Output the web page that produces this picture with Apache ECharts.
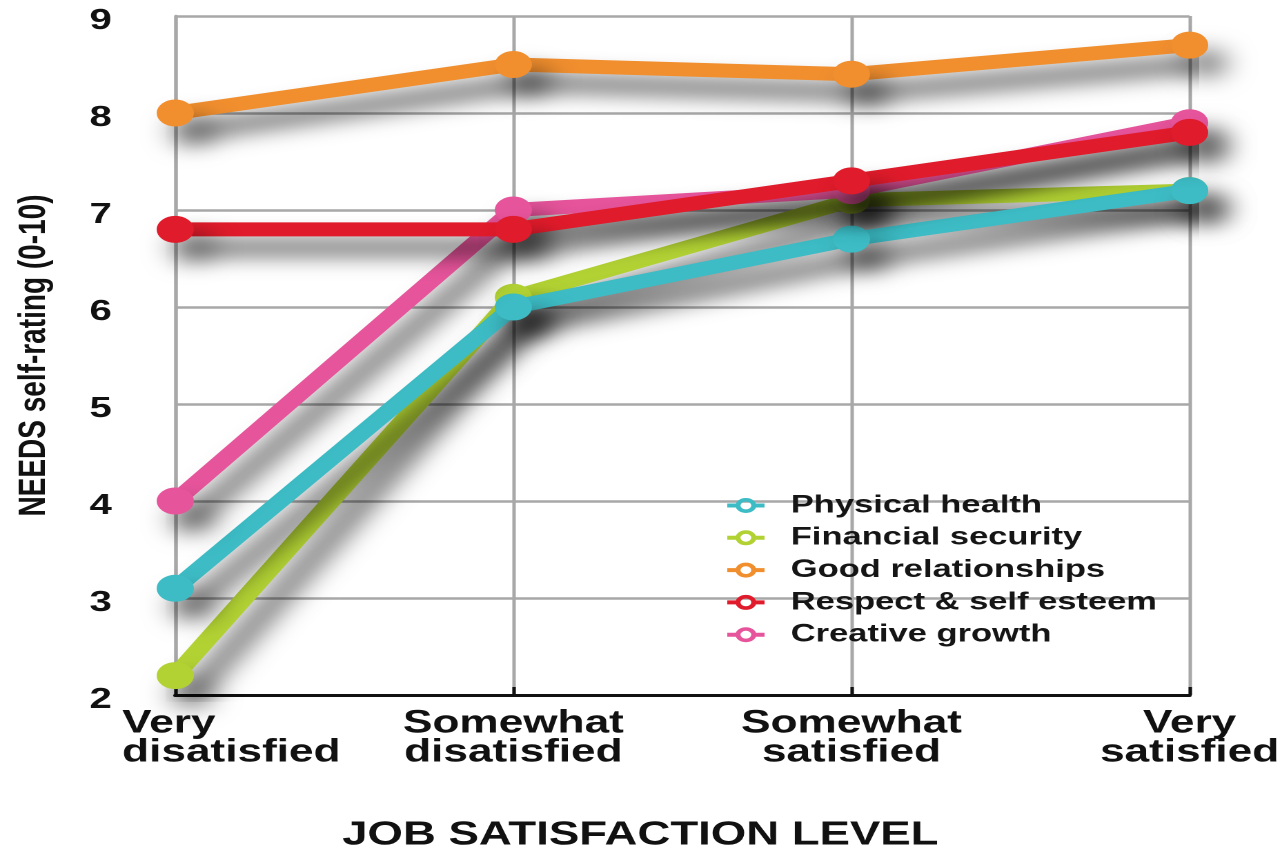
<!DOCTYPE html>
<html>
<head>
<meta charset="utf-8">
<script src="https://cdn.jsdelivr.net/npm/echarts@6/dist/echarts.min.js"></script>
<style>
  html, body { margin: 0; padding: 0; background: #fff; overflow: hidden; }
  #wrap { width: 1282px; height: 849px; overflow: hidden; position: relative; }
  #chart { position: absolute; left: 0; top: 0; height: 849px; transform-origin: 0 0; }
</style>
</head>
<body>
<div id="wrap"><div id="chart"></div></div>
<script>
// ---- data ----
const categories = ['Very\ndisatisfied', 'Somewhat\ndisatisfied', 'Somewhat\nsatisfied', 'Very\nsatisfied'];
const seriesNames = ['Physical health', 'Financial security', 'Good relationships', 'Respect & self esteem', 'Creative growth'];
const physicalHealth = [3.1, 6.0, 6.7, 7.2];
const financialSecurity = [2.2, 6.1, 7.1, 7.2];
const goodRelationships = [8.0, 8.5, 8.4, 8.7];
const respectSelfEsteem = [6.8, 6.8, 7.3, 7.8];
const creativeGrowth = [4.0, 7.0, 7.2, 7.9];
const yMin = 2, yMax = 9, yStep = 1;
const xAxisTitle = 'JOB SATISFACTION LEVEL';
const yAxisTitle = 'NEEDS self-rating (0-10)';

// ---- presentation (reference image is stretched horizontally) ----
const SX = 1.38;
const W = Math.round(1282 / SX);
const el = document.getElementById('chart');
el.style.width = W + 'px';
el.style.transform = 'scaleX(' + SX + ')';

const colors = {
  'Physical health': '#3dbcc5',
  'Financial security': '#b2d234',
  'Good relationships': '#f18f2f',
  'Respect & self esteem': '#e01b2b',
  'Creative growth': '#e6549b'
};
const zOrder = {
  'Financial security': 2,
  'Physical health': 3,
  'Creative growth': 4,
  'Respect & self esteem': 5,
  'Good relationships': 6
};
const values = [physicalHealth, financialSecurity, goodRelationships, respectSelfEsteem, creativeGrowth];
const FONT = '"Liberation Sans", Arial, Helvetica, sans-serif';

// legend icon: short bar, ring, short bar
const RING_ICON = 'path://M0,6 L7,6 L7,10 L0,10 Z M20,6 L27,6 L27,10 L20,10 Z ' +
  'M6,8 A7.5,7.5 0 1,1 21,8 A7.5,7.5 0 1,1 6,8 Z ' +
  'M9.6,8 A3.9,3.9 0 1,0 17.4,8 A3.9,3.9 0 1,0 9.6,8 Z';

const series = seriesNames.map((name, i) => ({
  name: name,
  type: 'line',
  data: values[i],
  z: zOrder[name],
  symbol: 'circle',
  symbolSize: 27,
  showSymbol: true,
  animation: false,
  color: colors[name],
  lineStyle: {
    width: 14,
    color: colors[name],
    shadowColor: 'rgba(0,0,0,0.7)',
    shadowBlur: 22,
    shadowOffsetX: 12,
    shadowOffsetY: 18
  },
  itemStyle: {
    color: colors[name],
    shadowColor: 'rgba(0,0,0,0.6)',
    shadowBlur: 22,
    shadowOffsetX: 12,
    shadowOffsetY: 18
  },
  emphasis: { disabled: true }
}));

const chart = echarts.init(el, null, { renderer: 'canvas', devicePixelRatio: 2 });
chart.setOption({
  backgroundColor: '#ffffff',
  animation: false,
  grid: { left: 127, right: W - 862, top: 16, bottom: 154, containLabel: false, outerBoundsMode: 'none' },
  legend: {
    orient: 'vertical',
    left: 527,
    top: 493,
    padding: 0,
    itemWidth: 27,
    itemHeight: 16,
    itemGap: 7.3,
    data: seriesNames.map(n => ({ name: n, icon: RING_ICON })),
    selectedMode: false,
    textStyle: { fontFamily: FONT, fontWeight: 'bold', fontSize: 25, lineHeight: 25, color: '#151515', padding: [0, 0, 0, 14] },
    itemStyle: { shadowBlur: 0, shadowColor: 'transparent', shadowOffsetX: 0, shadowOffsetY: 0, borderWidth: 0 }
  },
  xAxis: {
    type: 'category',
    data: categories.map((c, i) => i === 0 ? { value: c, textStyle: { padding: [0, 0, 0, 83] } } : c),
    boundaryGap: false,
    axisLine: { show: true, lineStyle: { color: '#111', width: 3 } },
    axisTick: { show: true, inside: true, length: 8, lineStyle: { color: '#111', width: 2.5 } },
    splitLine: { show: true, lineStyle: { color: '#a8a8a8', width: 2.5 } },
    axisLabel: {
      interval: 0,
      margin: 14,
      fontFamily: FONT,
      fontWeight: 'bold',
      fontSize: 32,
      lineHeight: 29,
      color: '#111',
      formatter: function (v, idx) {
        if (idx === 0) {
          return v.split('\n').map(s => '{l|' + s + '}').join('\n');
        }
        return v;
      },
      rich: {
        l: { width: 160, align: 'left', fontFamily: FONT, fontWeight: 'bold', fontSize: 32, lineHeight: 29, color: '#111' }
      }
    },
    name: xAxisTitle,
    nameLocation: 'middle',
    nameGap: 124,
    nameTextStyle: { fontFamily: FONT, fontWeight: 'bold', fontSize: 33, color: '#111', padding: [0, 61, 0, 0] }
  },
  yAxis: {
    type: 'value',
    min: yMin,
    max: yMax,
    interval: yStep,
    axisLine: { show: true, lineStyle: { color: '#a8a8a8', width: 2.5 } },
    axisTick: { show: false },
    splitLine: { show: true, lineStyle: { color: '#a8a8a8', width: 2.5 } },
    axisLabel: {
      margin: 46, fontFamily: FONT, fontWeight: 'bold', fontSize: 29, color: '#111',
      formatter: function (v) { return '{v|' + v + '}'; },
      rich: { v: { fontFamily: FONT, fontWeight: 'bold', fontSize: 29, color: '#111', padding: [10, 0, 0, 0] } }
    },
    name: yAxisTitle,
    nameLocation: 'middle',
    nameRotate: 90,
    nameGap: 88,
    nameTextStyle: { fontFamily: FONT, fontWeight: 'bold', fontSize: 28, color: '#111' }
  },
  series: series
});
</script>
</body>
</html>
